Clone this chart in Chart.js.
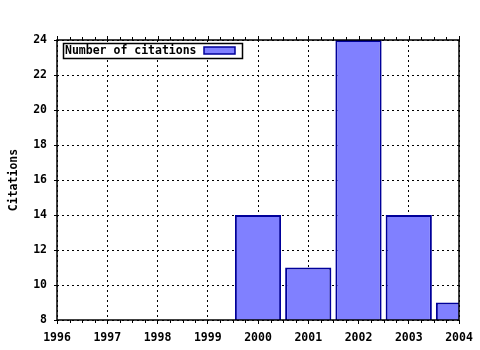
<!DOCTYPE html>
<html>
<head>
<meta charset="utf-8">
<script src="https://cdn.jsdelivr.net/npm/chart.js@4"></script>
<style>
  body { margin: 0; background: #fff; }
  #wrap { width: 480px; height: 350px; }
</style>
</head>
<body>
<div id="wrap"><canvas id="citationsChart"></canvas></div>
<script>
    const years = [2000, 2001, 2002, 2003, 2004];
    const citations = [14, 11, 24, 14, 9];
    const xRange = [1996, 2004];
    const yRange = [8, 24];

    const monoFont = { family: '"DejaVu Sans Mono", "Liberation Mono", monospace', size: 11.5, weight: 'bold' };

    // gnuplot-style frame, minor ticks and in-plot key
    const framePlugin = {
        id: 'frame',
        afterDraw(chart) {
            const ctx = chart.ctx;
            const area = chart.chartArea;
            const x = chart.scales.x;
            ctx.save();
            ctx.strokeStyle = '#000';
            ctx.lineWidth = 1;
            for (let v = xRange[0]; v <= xRange[1] + 1e-9; v += 0.25) {
                const px = Math.round(x.getPixelForValue(v)) + 0.5;
                const len = Number.isInteger(v) ? 4 : 3;
                ctx.beginPath();
                ctx.moveTo(px, area.top);
                ctx.lineTo(px, area.top - len);
                ctx.stroke();
                if (!Number.isInteger(v)) {
                    ctx.beginPath();
                    ctx.moveTo(px, area.bottom);
                    ctx.lineTo(px, area.bottom + len);
                    ctx.stroke();
                }
            }
            ctx.lineWidth = 1.5;
            ctx.strokeRect(area.left, area.top, area.right - area.left, area.bottom - area.top);

            // key
            const ds = chart.data.datasets[0];
            const kx = area.left + 6, ky = area.top + 3;
            ctx.fillStyle = '#fff';
            ctx.fillRect(kx, ky, 180, 15);
            ctx.lineWidth = 1.5;
            ctx.strokeStyle = '#000';
            ctx.strokeRect(kx + 0.5, ky + 0.5, 179, 15);
            ctx.font = 'bold 11.5px "DejaVu Sans Mono", "Liberation Mono", monospace';
            ctx.fillStyle = '#000';
            ctx.textBaseline = 'middle';
            ctx.fillText(ds.label, kx + 2, ky + 8.5);
            ctx.fillStyle = ds.backgroundColor;
            ctx.fillRect(kx + 141, ky + 4, 31, 7);
            ctx.strokeStyle = ds.borderColor;
            ctx.lineWidth = 1.5;
            ctx.strokeRect(kx + 141, ky + 4, 31, 7);
            ctx.restore();
        }
    };

    const ctxCitations = document.getElementById('citationsChart').getContext('2d');
    const citationsChart = new Chart(ctxCitations, {
        type: 'bar',
        data: {
            datasets: [{
                label: 'Number of citations',
                data: years.map((yr, i) => ({ x: yr, y: citations[i] })),
                backgroundColor: '#8080ff',
                borderColor: '#00009a',
                borderWidth: 2,
                borderSkipped: false,
                barPercentage: 0.92,
                categoryPercentage: 1
            }]
        },
        plugins: [framePlugin],
        options: {
            responsive: true,
            maintainAspectRatio: false,
            animation: false,
            layout: { padding: { top: 40, right: 21, left: 0, bottom: 0 } },
            plugins: {
                legend: { display: false },
                tooltip: { enabled: false }
            },
            scales: {
                x: {
                    type: 'linear',
                    min: xRange[0],
                    max: xRange[1],
                    offset: false,
                    border: { display: false, dash: [2, 3] },
                    grid: {
                        offset: false,
                        color: '#000',
                        lineWidth: 1,
                        tickLength: 4,
                        tickBorderDash: [],
                        tickColor: '#000'
                    },
                    ticks: {
                        stepSize: 1,
                        color: '#000',
                        font: monoFont,
                        padding: 7,
                        maxRotation: 0,
                        callback: v => String(v)
                    },
                    afterFit: s => { s.height = 30; }
                },
                y: {
                    min: yRange[0],
                    max: yRange[1],
                    border: { display: false, dash: [2, 3] },
                    grid: {
                        color: '#000',
                        lineWidth: 1,
                        tickLength: 3,
                        tickBorderDash: [],
                        tickColor: '#000'
                    },
                    ticks: {
                        stepSize: 2,
                        color: '#000',
                        font: monoFont,
                        padding: 7
                    },
                    title: {
                        display: true,
                        text: 'Citations',
                        color: '#000',
                        font: monoFont,
                        padding: { top: 7, bottom: 0 }
                    },
                    afterFit: s => { s.width = 57; }
                }
            }
        }
    });
</script>
</body>
</html>
